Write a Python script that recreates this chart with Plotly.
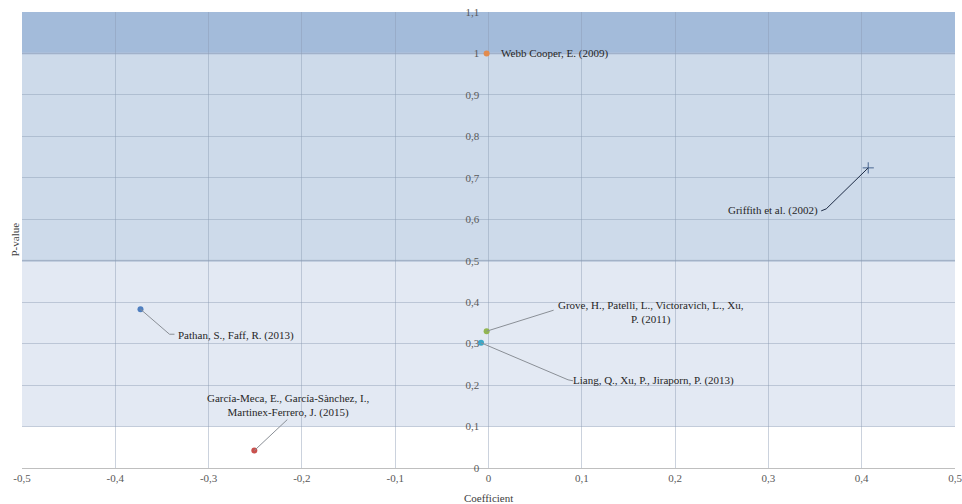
import plotly.graph_objects as go

# ---- data ----
studies = [
    "Webb Cooper, E. (2009)",
    "Griffith et al. (2002)",
    "Pathan, S., Faff, R. (2013)",
    "García-Meca, E., García-Sànchez, I.,<br>Martinex-Ferrero, J. (2015)",
    "Grove, H., Patelli, L., Victoravich, L., Xu,<br>P. (2011)",
    "Liang, Q., Xu, P., Jiraporn, P. (2013)",
]
coefficients = [-0.002, 0.407, -0.373, -0.251, -0.002, -0.008]
p_values = [1.0, 0.724, 0.383, 0.042, 0.33, 0.302]

x_tickvals = [-0.5, -0.4, -0.3, -0.2, -0.1, 0, 0.1, 0.2, 0.3, 0.4, 0.5]
x_ticktext = ["-0,5", "-0,4", "-0,3", "-0,2", "-0,1", "0", "0,1", "0,2", "0,3", "0,4", "0,5"]
y_tickvals = [0, 0.1, 0.2, 0.3, 0.4, 0.5, 0.6, 0.7, 0.8, 0.9, 1.0, 1.1]
y_ticktext = ["0", "0,1", "0,2", "0,3", "0,4", "0,5", "0,6", "0,7", "0,8", "0,9", "1", "1,1"]

# significance bands (lower, upper)
band_ranges = [(0.1, 0.5), (0.5, 1.0), (1.0, 1.1)]

# ---- styles ----
marker_colors = ["#e28b4e", "#4a6690", "#4f7fc0", "#c9504d", "#92b651", "#3ba8c8"]
marker_symbols = ["circle", "cross-thin", "circle", "circle", "circle", "circle"]
band_colors = ["#e3e9f3", "#cddaea", "#a3bbda"]
FONT = "'Liberation Serif', 'Times New Roman', serif"

# leader lines: (dx, dy) pixel offsets (screen, y down) of bend and end
leaders = [
    None,
    [(-42, 41), (-47, 43)],
    [(29, 25), (34, 25)],
    [(33, -31)],
    [(67, -21)],
    [(87, 37), (92, 38)],
]
leader_colors = [None, "#1d2b45", "#8a8f96", "#8a8f96", "#8a8f96", "#8a8f96"]
# text placement: xshift, yshift (plotly, y up), xanchor
label_pos = [
    (12, 0, "left"),
    (-48, -43, "right"),
    (36, -26, "left"),
    (34, 45, "center"),
    (164.5, 18.5, "center"),
    (90, -38, "left"),
]

fig = go.Figure()

for i in range(len(studies)):
    is_circle = marker_symbols[i] == "circle"
    fig.add_trace(go.Scatter(
        x=[coefficients[i]], y=[p_values[i]], mode="markers",
        marker=dict(color=marker_colors[i], size=6 if is_circle else 8,
                    symbol=marker_symbols[i],
                    line=dict(color=marker_colors[i], width=0 if is_circle else 1)),
        showlegend=False, hoverinfo="skip",
    ))

shapes = []
for (lo, hi), col in zip(band_ranges, band_colors):
    shapes.append(dict(type="rect", xref="paper", yref="y", x0=0, x1=1, y0=lo, y1=hi,
                       fillcolor=col, line=dict(width=0), layer="below"))
# band edge lines
shapes.append(dict(type="line", xref="paper", yref="y", x0=0, x1=1, y0=0.5, y1=0.5,
                   line=dict(color="#b7c5d8", width=2), layer="below"))
shapes.append(dict(type="line", xref="paper", yref="y", x0=0, x1=1, y0=1.0, y1=1.0,
                   line=dict(color="#b3c4dc", width=2), layer="below"))

for i, segs in enumerate(leaders):
    if not segs:
        continue
    px, py = 0, 0
    for dx, dy in segs:
        shapes.append(dict(type="line", xref="x", yref="y",
                           xsizemode="pixel", ysizemode="pixel",
                           xanchor=coefficients[i], yanchor=p_values[i],
                           x0=px, y0=-py, x1=dx, y1=-dy,
                           line=dict(color=leader_colors[i], width=1), layer="above"))
        px, py = dx, dy

annotations = []
for i, txt in enumerate(studies):
    xs, ys, xa = label_pos[i]
    annotations.append(dict(x=coefficients[i], y=p_values[i], xref="x", yref="y",
                            text=txt, showarrow=False, xshift=xs, yshift=ys,
                            xanchor=xa, yanchor="middle", align="center",
                            font=dict(family=FONT, size=11, color="#262626")))
annotations.append(dict(text="P-value", xref="paper", yref="paper", x=-0.008, y=0.5,
                        textangle=-90, showarrow=False, xanchor="center", yanchor="middle",
                        font=dict(family=FONT, size=11, color="#404040")))
annotations.append(dict(text="Coefficient", xref="paper", yref="paper", x=0.5, y=-0.0658,
                        showarrow=False, xanchor="center", yanchor="middle",
                        font=dict(family=FONT, size=11, color="#404040")))

fig.update_layout(
    width=962, height=504,
    margin=dict(l=22, r=7, t=12, b=36, autoexpand=False),
    paper_bgcolor="white", plot_bgcolor="white",
    shapes=shapes, annotations=annotations,
    xaxis=dict(range=[-0.5, 0.5], tickvals=x_tickvals, ticktext=x_ticktext,
               showgrid=True, gridcolor="rgba(140,155,180,0.45)", gridwidth=1,
               zeroline=False, showline=True, linecolor="#bfbfbf", linewidth=1,
               ticks="", ticklabeloverflow="allow", automargin=False,
               tickfont=dict(family=FONT, size=11, color="#595959")),
    yaxis=dict(range=[0, 1.1], tickvals=y_tickvals, ticktext=y_ticktext,
               anchor="free", position=0.5, automargin=False,
               showgrid=True, gridcolor="rgba(140,155,180,0.45)", gridwidth=1,
               zeroline=False, showline=False, ticklabeloverflow="allow",
               ticks="outside", ticklen=7, tickcolor="rgba(0,0,0,0)",
               tickfont=dict(family=FONT, size=11, color="#595959")),
)

# remove the default 8px page margin so the figure fills the window
fig.write_html("out.html", config={"displayModeBar": False},
               post_script="document.body.style.margin='0';")
